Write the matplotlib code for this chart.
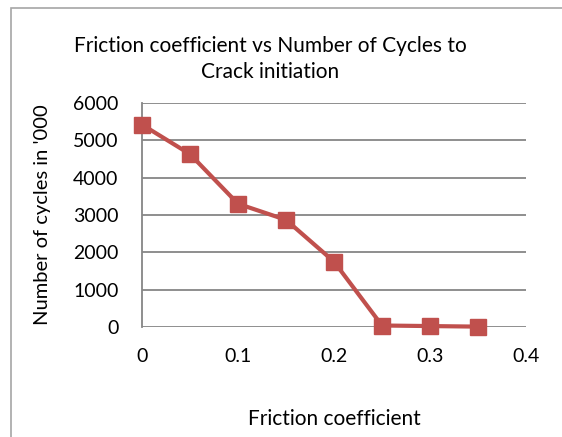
import numpy as np
import matplotlib.pyplot as plt
from matplotlib.patches import Rectangle

# data
friction = [0, 0.05, 0.1, 0.15, 0.2, 0.25, 0.3, 0.35]
cycles = [5420, 4630, 3300, 2870, 1750, 40, 25, 10]

x_ticks = [0, 0.1, 0.2, 0.3, 0.4]
y_ticks = [0, 1000, 2000, 3000, 4000, 5000, 6000]

plt.rcParams['font.family'] = ['Lato', 'DejaVu Sans']

fig = plt.figure(figsize=(5.62, 4.37), dpi=100)
fig.patches.append(Rectangle((11 / 562, -0.1), 1.2, 1.1 - 8 / 437, transform=fig.transFigure,
                             fill=False, edgecolor='#a6a6a6', linewidth=1.2))

ax = fig.add_axes([142 / 562, 1 - 327 / 437, (526 - 142) / 562, (327 - 103) / 437])

ax.plot(friction, cycles, color='#C0504D', linewidth=3, marker='s', markersize=11,
        markeredgecolor='#C0504D', zorder=3, clip_on=False)

ax.set_xlim(0, 0.4)
ax.set_ylim(0, 6000)
ax.set_xticks(x_ticks)
ax.set_xticklabels(['0', '0.1', '0.2', '0.3', '0.4'])
ax.set_yticks(y_ticks)
ax.yaxis.grid(True, color='#868686', linewidth=1.3)
ax.set_axisbelow(True)

for s in ['top', 'right', 'bottom']:
    ax.spines[s].set_visible(False)
ax.spines['left'].set_color('#868686')
ax.spines['left'].set_linewidth(1.3)
ax.tick_params(axis='x', length=0, pad=15, labelsize=14)
ax.tick_params(axis='y', length=0, pad=17, labelsize=14)

# title is centred on the chart area, not on the plot area
fig.text(270 / 562, 1 - 59 / 437, 'Friction coefficient vs Number of Cycles to\nCrack initiation',
         fontsize=15, ha='center', va='center', multialignment='center', linespacing=1.35)
ax.set_xlabel('Friction coefficient', fontsize=15, labelpad=32)
ax.set_ylabel("Number of cycles in '000", fontsize=14.5, labelpad=16)

plt.savefig('out.png', dpi=100)
